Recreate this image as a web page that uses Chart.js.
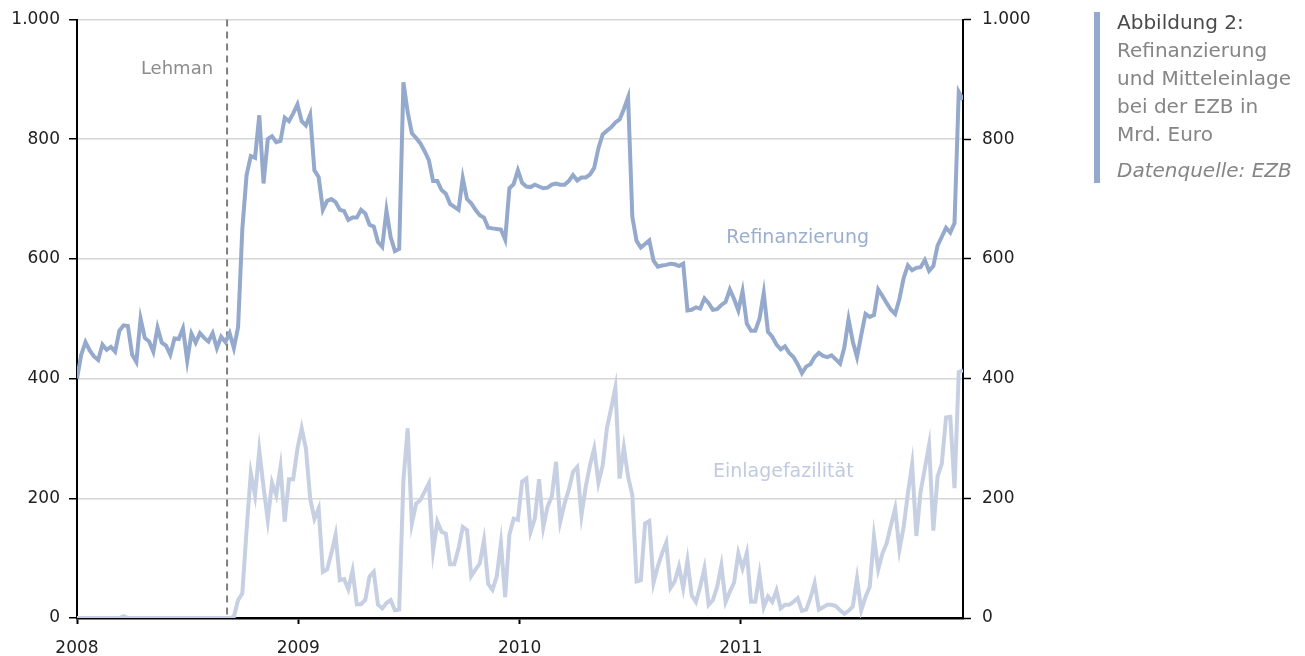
<!DOCTYPE html>
<html>
<head>
<meta charset="utf-8">
<script src="https://cdn.jsdelivr.net/npm/chart.js@4.4.0/dist/chart.umd.min.js"></script>
<style>
  body { margin: 0; background: #fff; }
  #wrap { position: relative; width: 1305px; height: 656px; }
  #bar { position: absolute; left: 1094px; top: 12px; width: 6px; height: 171px; background: #94a9cc; }
  #note { position: absolute; left: 1117px; top: 8px; font-family: "DejaVu Sans"; font-size: 20px; line-height: 28px; color: #858585; white-space: nowrap; }
  #note .head { color: #4a4a4a; }
  #note .src { font-style: italic; margin-top: 8px; }
</style>
</head>
<body>
<div id="wrap">
  <canvas id="myChart" width="1305" height="656"></canvas>
  <div id="bar"></div>
  <div id="note">
    <div class="head">Abbildung 2:</div>
    <div>Refinanzierung</div>
    <div>und Mitteleinlage</div>
    <div>bei der EZB in</div>
    <div>Mrd. Euro</div>
    <div class="src">Datenquelle: EZB</div>
  </div>
</div>
<script>
// weekly values, Jan 2008 - Dec 2011, Mrd. Euro
var refi = [
  400, 440, 461, 447, 437, 431, 457, 448, 453, 445, 480, 489, 488, 440, 428, 500, 468, 462, 445, 485,
  460, 455, 440, 467, 466, 484, 430, 475, 460, 476, 468, 462, 476, 451, 470, 461, 476, 451, 486, 650,
  740, 772, 769, 840, 726, 800, 805, 795, 797, 836, 830, 843, 858, 830, 823, 841, 748, 737, 682, 697,
  700, 695, 682, 680, 665, 669, 669, 682, 676, 657, 654, 628, 620, 681, 636, 613, 617, 895, 845, 810,
  802, 793, 780, 765, 730, 730, 715, 709, 692, 687, 682, 735, 700, 693, 682, 673, 669, 652, 651, 650,
  649, 632, 718, 725, 748, 727, 721, 720, 724, 721, 718, 719, 724, 726, 724, 724, 730, 740, 731, 736,
  736, 741, 752, 785, 808, 814, 820, 828, 833, 850, 870, 670, 630, 619, 625, 631, 597, 587, 589, 590,
  592, 591, 588, 592, 514, 515, 519, 517, 534, 526, 515, 516, 523, 528, 549, 533, 514, 546, 492, 480,
  480, 500, 543, 478, 470, 457, 449, 454, 443, 436, 424, 409, 420, 424, 436, 443, 438, 436, 439, 432,
  425, 452, 499, 462, 436, 473, 508, 503, 506, 549, 538, 526, 515, 508, 533, 568, 589, 581, 585, 586,
  598, 580, 588, 622, 637, 652, 644, 660, 879, 866
];
var einlage = [
  0, 0, 0, 0, 0, 0, 0, 0, 0, 0, 0, 3, 0, 0, 0, 0, 0, 0, 0, 0,
  0, 0, 0, 0, 0, 0, 0, 0, 0, 0, 0, 0, 0, 0, 0, 0, 0, 2, 30, 41,
  147, 242, 205, 280, 219, 164, 226, 205, 252, 161, 232, 232, 283, 317, 283, 200, 166, 183, 77, 81,
  108, 139, 63, 65, 48, 79, 23, 23, 30, 69, 77, 22, 16, 25, 30, 13, 14, 230, 317, 158,
  191, 197, 211, 225, 112, 161, 144, 141, 90, 90, 116, 152, 147, 70, 81, 91, 130, 57, 47, 69,
  125, 35, 139, 166, 164, 228, 233, 144, 166, 232, 152, 186, 203, 261, 161, 191, 214, 244, 252, 172,
  219, 255, 283, 226, 255, 317, 350, 385, 233, 285, 236, 205, 61, 63, 158, 162, 59, 86, 108, 126,
  50, 61, 86, 50, 96, 38, 27, 52, 83, 22, 30, 52, 88, 27, 44, 59, 108, 83, 109, 27,
  27, 73, 18, 36, 27, 46, 16, 22, 22, 27, 33, 12, 14, 33, 58, 14, 18, 22, 22, 20,
  13, 7, 12, 19, 66, 13, 35, 52, 136, 81, 108, 125, 155, 183, 114, 152, 208, 257, 137, 211,
  250, 289, 146, 236, 258, 335, 336, 217, 411, 414
];
var yearLabels = ['2008', '2009', '2010', '2011'];
var yearWeeks = [0, 52.2, 104.4, 156.6];
var lehmanWeek = 35.4;

var font = 'DejaVu Sans';

function toPoints(arr) {
  return arr.map(function(v, i) { return {x: i, y: v}; });
}

function fmt(v) {
  return v.toLocaleString('de-DE');
}

// dashed Lehman marker and the series names
var notes = {
  id: 'notes',
  beforeDatasetsDraw: function(chart) {
    var c = chart.ctx, xs = chart.scales.x;
    var lx = xs.getPixelForValue(lehmanWeek);
    c.save();
    c.strokeStyle = '#7f7f7f';
    c.lineWidth = 2;
    c.setLineDash([7, 5]);
    c.beginPath();
    c.moveTo(lx, chart.chartArea.top);
    c.lineTo(lx, chart.chartArea.bottom);
    c.stroke();
    c.restore();
  },
  afterDatasetsDraw: function(chart) {
    var c = chart.ctx, xs = chart.scales.x, ys = chart.scales.y;
    c.save();
    c.textBaseline = 'middle';
    c.font = '18px "' + font + '"';
    c.fillStyle = '#8c8c8c';
    c.textAlign = 'right';
    c.fillText('Lehman', xs.getPixelForValue(lehmanWeek) - 14, ys.getPixelForValue(916));
    c.font = '19px "' + font + '"';
    c.textAlign = 'center';
    c.fillStyle = '#9aaed0';
    c.fillText('Refinanzierung', xs.getPixelForValue(170), ys.getPixelForValue(634));
    c.fillStyle = '#c0cbe0';
    c.fillText('Einlagefazilität', xs.getPixelForValue(166.6), ys.getPixelForValue(244));
    c.restore();
  }
};

var ctx = document.getElementById('myChart').getContext('2d');
var chart = new Chart(ctx, {
  type: 'line',
  data: {
    datasets: [{
      label: 'Refinanzierung',
      data: toPoints(refi),
      borderColor: '#94a9cc',
      borderWidth: 4,
      pointRadius: 0,
      tension: 0
    }, {
      label: 'Einlagefazilität',
      data: toPoints(einlage),
      borderColor: '#c6d0e2',
      borderWidth: 4,
      pointRadius: 0,
      tension: 0
    }]
  },
  plugins: [notes],
  options: {
    responsive: false,
    animation: false,
    layout: { padding: { top: 19, left: 0, right: 0, bottom: 0 } },
    plugins: { legend: { display: false }, tooltip: { enabled: false } },
    scales: {
      x: {
        type: 'linear',
        min: 0,
        max: 209,
        afterBuildTicks: function(s) {
          s.ticks = yearWeeks.map(function(w) { return {value: w}; });
        },
        afterFit: function(s) { s.height = 38; },
        ticks: {
          callback: function(v) { return yearLabels[yearWeeks.indexOf(v)]; },
          color: '#222',
          font: { family: font, size: 17 },
          padding: 14,
          maxRotation: 0,
          autoSkip: false
        },
        grid: { drawOnChartArea: false, tickLength: 6, tickColor: '#000', tickWidth: 2 },
        border: { color: '#000', width: 2.5 }
      },
      y: {
        position: 'left',
        min: 0,
        max: 1000,
        afterFit: function(s) { s.width = 77; },
        ticks: { stepSize: 200, callback: fmt, color: '#222', font: { family: font, size: 17, lineHeight: 1 }, padding: 9 },
        grid: {
          color: function(c) { return c.tick && c.tick.value === 0 ? 'rgba(0,0,0,0)' : '#d6d6d6'; },
          lineWidth: 1.5,
          tickLength: 8,
          tickColor: '#000',
          tickWidth: 1.5
        },
        border: { color: '#000', width: 2 }
      },
      y2: {
        position: 'right',
        min: 0,
        max: 1000,
        afterFit: function(s) { s.width = 342; },
        ticks: { stepSize: 200, callback: fmt, color: '#222', font: { family: font, size: 17, lineHeight: 1 }, padding: 11 },
        grid: { drawOnChartArea: false, tickLength: 8, tickColor: '#000', tickWidth: 1.5 },
        border: { color: '#000', width: 2 }
      }
    }
  }
});
</script>
</body>
</html>
